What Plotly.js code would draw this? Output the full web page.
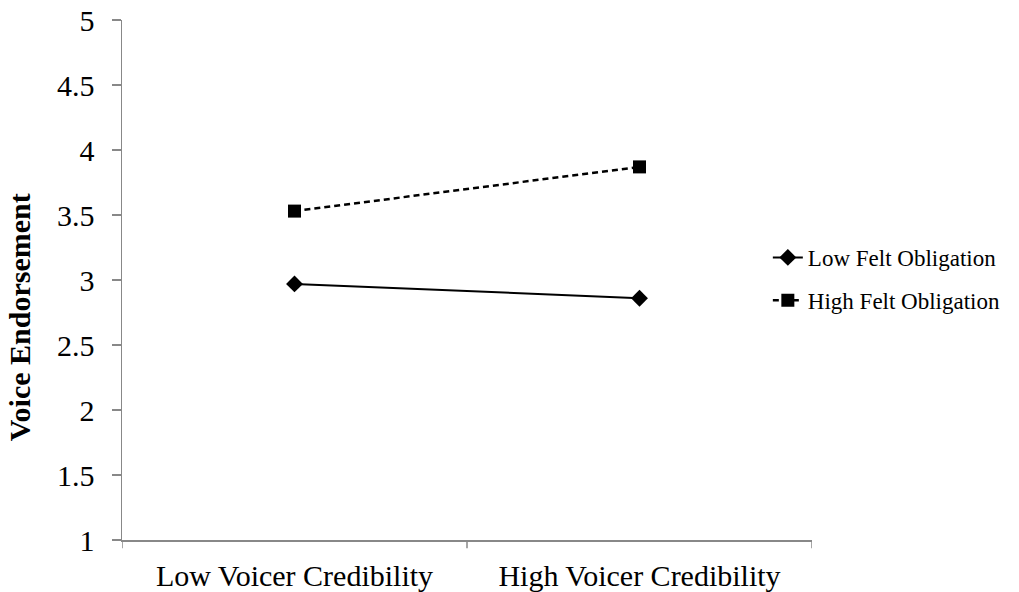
<!DOCTYPE html>
<html>
<head>
<meta charset="utf-8">
<script src="https://cdn.plot.ly/plotly-3.0.1.min.js"></script>
<style>html,body{margin:0;padding:0;background:#fff;}#chart{width:1019px;height:592px;}</style>
</head>
<body>
<div id="chart"></div>
<script>
const categories = ["Low Voicer Credibility", "High Voicer Credibility"];
const lowFeltObligation = [2.97, 2.86];
const highFeltObligation = [3.53, 3.87];
const seriesNames = ["Low Felt Obligation", "High Felt Obligation"];
const yTicks = [1, 1.5, 2, 2.5, 3, 3.5, 4, 4.5, 5];
const yTitle = "Voice Endorsement";

const font = "Liberation Serif, Times New Roman, serif";

const traces = [
  {
    x: categories, y: lowFeltObligation, name: seriesNames[0], legendgroup: "a",
    type: "scatter", mode: "lines+markers",
    line: {color: "#000", width: 2},
    marker: {symbol: "diamond", size: 13, color: "#000"}
  },
  {
    x: categories, y: highFeltObligation, name: seriesNames[1], legendgroup: "b",
    type: "scatter", mode: "lines+markers",
    line: {color: "#000", width: 2.5, dash: "6px,4px"},
    marker: {symbol: "square", size: 13, color: "#000"}
  }
];

const layout = {
  width: 1019, height: 592,
  margin: {l: 122, r: 207, t: 20, b: 52},
  paper_bgcolor: "#fff", plot_bgcolor: "#fff",
  font: {family: font, color: "#000", size: 30},
  showlegend: true,
  legend: {
    x: 0.936, y: 0.502, xanchor: "left", yanchor: "middle",
    font: {family: font, size: 23, color: "#000"},
    tracegroupgap: 10, bgcolor: "rgba(0,0,0,0)"
  },
  xaxis: {
    type: "category", range: [-0.5, 1.5],
    showgrid: false, zeroline: false,
    showline: true, linecolor: "#888", linewidth: 1.5,
    ticks: "", tickfont: {family: font, size: 30, color: "#000"},
    ticklabelstandoff: 8,
    fixedrange: true
  },
  yaxis: {
    range: [1, 5], tickvals: yTicks, ticktext: yTicks.map(String),
    showgrid: false, zeroline: false,
    showline: true, linecolor: "#888", linewidth: 1.5,
    ticks: "outside", ticklen: 9, tickcolor: "#888", tickwidth: 1.5,
    tickfont: {family: font, size: 30, color: "#000"},
    ticklabelstandoff: 11
  },
  annotations: [{
    text: "<b>" + yTitle + "</b>", textangle: -90,
    xref: "paper", yref: "paper", x: -0.148, y: 0.428,
    xanchor: "center", yanchor: "middle", showarrow: false,
    font: {family: font, size: 30, color: "#000"}
  }],
  shapes: [0, 1, 2].map(i => ({
    type: "line", xref: "x", yref: "paper",
    x0: i - 0.5, x1: i - 0.5, y0: 0, y1: -0.016,
    line: {color: "#888", width: 1.5}
  }))
};

Plotly.newPlot("chart", traces, layout, {displayModeBar: false, staticPlot: true});
</script>
</body>
</html>
